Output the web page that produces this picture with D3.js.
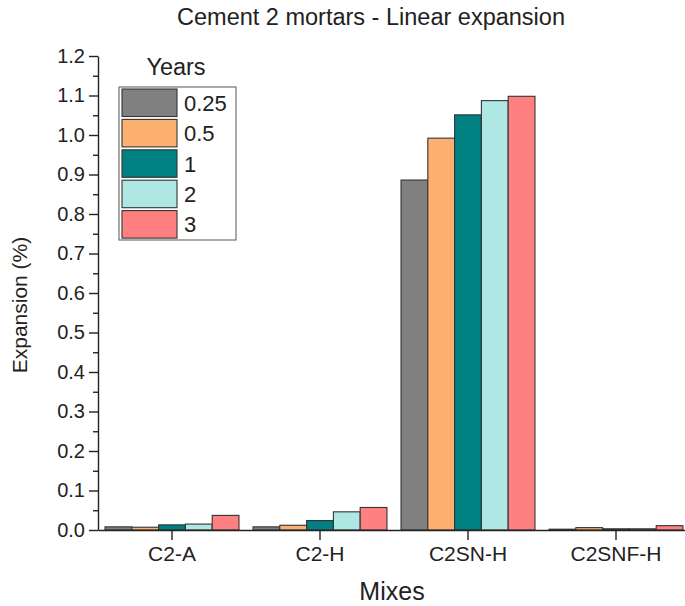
<!DOCTYPE html>
<html>
<head>
<meta charset="utf-8">
<script src="https://cdn.jsdelivr.net/npm/d3@7"></script>
<style>
  html, body { margin: 0; padding: 0; background: #fff; }
  svg { display: block; font-family: "Liberation Sans", Arial, sans-serif; }
</style>
</head>
<body>
<svg id="chart" width="685" height="606"></svg>
<script>
// Mortar mixes and exposure ages
const mixes = ["C2-A", "C2-H", "C2SN-H", "C2SNF-H"];
const years = ["0.25", "0.5", "1", "2", "3"];

// Expansion (%) per age, one value per mix
const exp025 = [0.008, 0.008, 0.886, 0.002];
const exp05  = [0.007, 0.012, 0.992, 0.006];
const exp1   = [0.013, 0.024, 1.051, 0.003];
const exp2   = [0.015, 0.046, 1.087, 0.003];
const exp3   = [0.037, 0.057, 1.098, 0.011];

const seriesValues = [exp025, exp05, exp1, exp2, exp3];
const colors = ["#808080", "#fdb170", "#008080", "#aee7e3", "#ff8080"];

const yTicks = [0, 0.1, 0.2, 0.3, 0.4, 0.5, 0.6, 0.7, 0.8, 0.9, 1.0, 1.1, 1.2];
const yMinorTicks = d3.range(0.05, 1.2, 0.1);

const svg = d3.select("#chart");
const plot = { left: 98, right: 690, top: 56, bottom: 530 };

const x0 = d3.scaleBand().domain(mixes).range([plot.left, plot.right]).padding(0);
const groupW = x0.bandwidth() * 0.905;
const x1 = d3.scaleBand().domain(years).range([0, groupW]).padding(0);
const y = d3.scaleLinear().domain([0, 1.2]).range([plot.bottom, plot.top]);

// Bars
const rows = [];
mixes.forEach((m, i) => {
  years.forEach((yr, j) => rows.push({ mix: m, year: yr, value: seriesValues[j][i], color: colors[j] }));
});

svg.append("g").selectAll("rect").data(rows).join("rect")
  .attr("x", d => x0(d.mix) + (x0.bandwidth() - groupW) / 2 + x1(d.year))
  .attr("y", d => y(d.value))
  .attr("width", x1.bandwidth())
  .attr("height", d => y(0) - y(d.value))
  .attr("fill", d => d.color)
  .attr("stroke", "#333")
  .attr("stroke-width", 1.1);

// Y axis with minor ticks
const yAxis = svg.append("g").attr("transform", `translate(${plot.left},0)`)
  .call(d3.axisLeft(y).tickValues(yTicks).tickFormat(d3.format(".1f")).tickSize(9).tickSizeOuter(0).tickPadding(4));
svg.append("g").attr("transform", `translate(${plot.left},0)`)
  .call(d3.axisLeft(y).tickValues(yMinorTicks).tickFormat("").tickSize(5).tickSizeOuter(0))
  .select(".domain").remove();

// X axis
const xAxis = svg.append("g").attr("transform", `translate(0,${plot.bottom})`)
  .call(d3.axisBottom(x0).tickSize(10).tickSizeOuter(0).tickPadding(6));

svg.selectAll(".tick line, .domain").attr("stroke", "#222").attr("stroke-width", 1.4);
yAxis.selectAll("text").attr("font-size", 20).attr("fill", "#222");
xAxis.selectAll("text").attr("font-size", 21).attr("fill", "#222");

// Titles
svg.append("text").attr("x", 371).attr("y", 25).attr("text-anchor", "middle")
  .attr("font-size", 23.5).attr("fill", "#222").text("Cement 2 mortars - Linear expansion");
svg.append("text").attr("x", 392).attr("y", 600).attr("text-anchor", "middle")
  .attr("font-size", 25).attr("fill", "#222").text("Mixes");
svg.append("text").attr("transform", "translate(27,305) rotate(-90)").attr("text-anchor", "middle")
  .attr("font-size", 21).attr("fill", "#222").text("Expansion (%)");

// Legend
const lg = svg.append("g");
lg.append("text").attr("x", 176).attr("y", 75).attr("text-anchor", "middle")
  .attr("font-size", 23.5).attr("fill", "#222").text("Years");
lg.append("rect").attr("x", 119).attr("y", 87).attr("width", 117).attr("height", 153)
  .attr("fill", "#fff").attr("stroke", "#555").attr("stroke-width", 1);
years.forEach((yr, j) => {
  const ry = 89 + j * 30.4;
  lg.append("rect").attr("x", 122).attr("y", ry).attr("width", 55).attr("height", 27.5)
    .attr("fill", colors[j]).attr("stroke", "#333").attr("stroke-width", 1.1);
  lg.append("text").attr("x", 184).attr("y", ry + 14).attr("dy", "0.35em")
    .attr("font-size", 22).attr("fill", "#222").text(yr);
});
</script>
</body>
</html>
